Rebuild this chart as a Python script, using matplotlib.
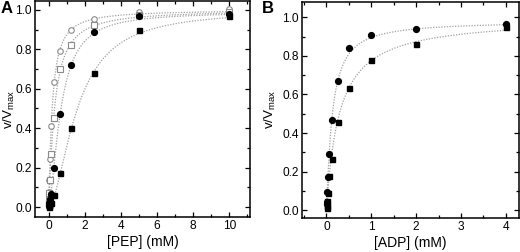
import numpy as np
import matplotlib
matplotlib.use("Agg")
import matplotlib.pyplot as plt
from matplotlib.ticker import MultipleLocator

plt.rcParams['font.family'] = ['Liberation Sans', 'DejaVu Sans']
plt.rcParams['mathtext.fontset'] = 'custom'
plt.rcParams['mathtext.rm'] = 'Liberation Sans'

# ---------------- Panel A data: [PEP] (mM) ----------------
pep = [0.0098, 0.0195, 0.039, 0.078, 0.156, 0.3125, 0.625, 1.25, 2.5, 5, 10]
a_open_circle = [0.04, 0.075, 0.135, 0.245, 0.41, 0.635, 0.79, 0.90, 0.953, 0.99, 1.005]
a_open_square = [0.02, 0.04, 0.07, 0.135, 0.27, 0.45, 0.70, 0.82, 0.922, 0.975, 0.99]
a_filled_circle = [0.005, 0.01, 0.02, 0.04, 0.065, 0.20, 0.47, 0.72, 0.889, 0.968, 0.978]
a_filled_square = [0.0, 0.005, 0.01, 0.02, 0.02, 0.06, 0.175, 0.40, 0.68, 0.897, 0.97]

# Hill fit parameters (Vmax, K, n) for the dotted curves
a_fit_open_circle = (1.0, 0.20, 1.2)
a_fit_open_square = (1.0, 0.33, 1.2)
a_fit_filled_circle = (0.99, 0.68, 1.6)
a_fit_filled_square = (1.0, 1.6, 1.75)

# ---------------- Panel B data: [ADP] (mM) ----------------
adp = [0.0039, 0.0078, 0.0156, 0.031, 0.0625, 0.125, 0.25, 0.5, 1, 2, 4]
b_filled_circle = [0.033, 0.045, 0.097, 0.17, 0.292, 0.465, 0.668, 0.843, 0.91, 0.94, 0.965]
b_filled_square = [0.01, 0.02, 0.05, 0.088, 0.178, 0.265, 0.455, 0.635, 0.78, 0.86, 0.95]
b_fit_filled_circle = (0.98, 0.13, 1.15)
b_fit_filled_square = (1.0, 0.29, 1.0)


def hill(x, p):
    vmax, k, n = p
    return vmax * x ** n / (k ** n + x ** n)


fig = plt.figure(figsize=(5.2, 2.52), dpi=100)
axA = fig.add_axes([0.0673, 0.139, 0.4135, 0.857])
axB = fig.add_axes([0.581, 0.135, 0.417, 0.858])

curve_kw = dict(color='#a0a0a0', linestyle=(0, (1, 1.2)), linewidth=0.9, zorder=1)
gray = '#8a8a8a'

# Panel A
xs = np.linspace(0, 10, 600)
for p in (a_fit_open_circle, a_fit_open_square, a_fit_filled_circle, a_fit_filled_square):
    axA.plot(xs, hill(xs, p), **curve_kw)
axA.plot(pep, a_open_circle, 'o', ms=4.0, mfc='white', mec=gray, mew=0.8, linestyle='none', zorder=3)
axA.plot(pep, a_open_square, 's', ms=4.0, mfc='white', mec=gray, mew=0.8, linestyle='none', zorder=3)
axA.plot(pep, a_filled_circle, 'o', ms=4.2, color='black', linestyle='none', zorder=4)
axA.plot(pep, a_filled_square, 's', ms=3.6, color='black', linestyle='none', zorder=4)
axA.set_xlim(-0.75, 11.15)
axA.set_ylim(-0.05, 1.045)
axA.xaxis.set_major_locator(MultipleLocator(2))
axA.xaxis.set_minor_locator(MultipleLocator(1))
axA.set_xlabel('[PEP] (mM)', fontsize=10, labelpad=2)

# Panel B
xs = np.linspace(0, 4, 600)
for p in (b_fit_filled_circle, b_fit_filled_square):
    axB.plot(xs, hill(xs, p), **curve_kw)
axB.plot(adp, b_filled_circle, 'o', ms=4.2, color='black', linestyle='none', zorder=4)
axB.plot(adp, b_filled_square, 's', ms=3.6, color='black', linestyle='none', zorder=4)
axB.set_xlim(-0.54, 4.29)
axB.set_ylim(-0.04, 1.08)
axB.xaxis.set_major_locator(MultipleLocator(1))
axB.xaxis.set_minor_locator(MultipleLocator(0.5))
axB.set_xlabel('[ADP] (mM)', fontsize=10, labelpad=2)

for ax in (axA, axB):
    ax.yaxis.set_major_locator(MultipleLocator(0.2))
    ax.yaxis.set_minor_locator(MultipleLocator(0.1))
    ax.yaxis.set_major_formatter(matplotlib.ticker.FormatStrFormatter('%.1f'))
    ax.tick_params(which='both', direction='in', top=True, right=True, labelsize=8.6, width=0.9)
    ax.tick_params(which='major', length=3.5, pad=2.5)
    ax.tick_params(which='minor', length=2)
    for s in ax.spines.values():
        s.set_linewidth(1.1)
    ax.set_ylabel('v/V$_{\\mathrm{max}}$', fontsize=9.6)

axA.yaxis.set_label_coords(-0.084, 0.5)
axB.yaxis.set_label_coords(-0.11, 0.5)

fig.text(0.002, 0.995, 'A', fontsize=12, fontweight='bold', va='top', ha='left')
fig.text(0.503, 0.995, 'B', fontsize=12, fontweight='bold', va='top', ha='left')

fig.savefig('out.png', dpi=100)
